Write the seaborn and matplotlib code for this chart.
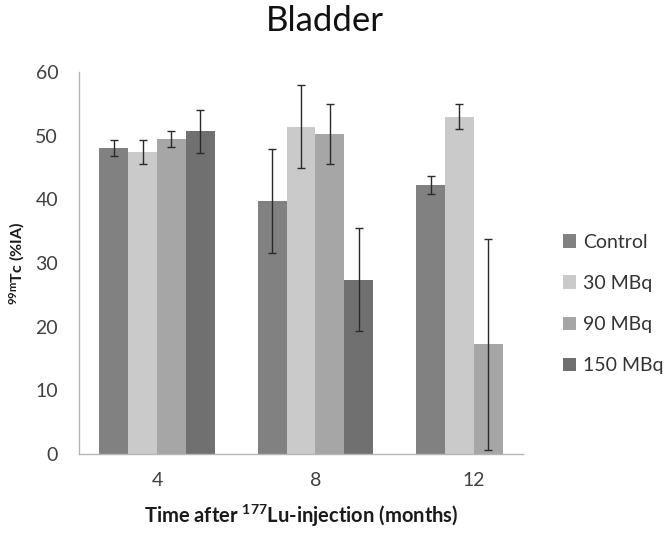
import numpy as np
import pandas as pd
import matplotlib
matplotlib.use("Agg")
import matplotlib.pyplot as plt
import seaborn as sns

# values (mean and error per group)
months = ["4", "8", "12"]
groups = ["Control", "30 MBq", "90 MBq", "150 MBq"]
means = {
    "Control": [48.1, 39.7, 42.3],
    "30 MBq": [47.4, 51.4, 53.0],
    "90 MBq": [49.5, 50.3, 17.2],
    "150 MBq": [50.7, 27.4, np.nan],
}
errors = {
    "Control": [1.25, 8.2, 1.4],
    "30 MBq": [1.85, 6.5, 1.9],
    "90 MBq": [1.25, 4.7, 16.5],
    "150 MBq": [3.35, 8.1, np.nan],
}
colors = ["#818181", "#cacaca", "#a6a6a6", "#707070"]

rows = []
for g in groups:
    for m, v, e in zip(months, means[g], errors[g]):
        rows.append({"month": m, "group": g, "value": v, "err": e})
df = pd.DataFrame(rows).dropna()

sns.set_style("white")
plt.rcParams["font.family"] = ["Lato", "DejaVu Sans"]
plt.rcParams["mathtext.fontset"] = "custom"
plt.rcParams["mathtext.rm"] = "Lato"
plt.rcParams["mathtext.bf"] = "Lato:bold"

fig = plt.figure(figsize=(6.66, 5.35), dpi=100)
ax = fig.add_axes([0.1186, 0.1514, 0.6667, 0.714])

sns.barplot(data=df, x="month", y="value", hue="group", order=months,
            hue_order=groups, palette=colors, width=0.73, errorbar=None,
            saturation=1, linewidth=0, ax=ax)

# error bars on top of the drawn bars
for g, cont in zip(groups, ax.containers):
    sub = df[df["group"] == g].set_index("month")
    for bar in cont:
        cx = bar.get_x() + bar.get_width() / 2
        m = months[int(round(cx))]
        if m not in sub.index:
            continue
        ax.errorbar(cx, sub.loc[m, "value"], yerr=sub.loc[m, "err"], fmt="none",
                    ecolor="#2a2a2a", elinewidth=1, capsize=3.2, capthick=1)

ax.set_ylim(0, 60)
ax.set_yticks(range(0, 61, 10))
ax.tick_params(axis="y", length=0, labelsize=14, colors="#404040", pad=15)
ax.tick_params(axis="x", length=0, labelsize=14, colors="#404040", pad=13)
for s in ["top", "right"]:
    ax.spines[s].set_visible(False)
for s in ["left", "bottom"]:
    ax.spines[s].set_color("#b5b5b5")
    ax.spines[s].set_linewidth(1)

ax.set_xlabel(r"Time after $\mathbf{^{177}}$Lu-injection (months)", fontsize=14.5,
              fontweight="bold", labelpad=10, color="#1a1a1a")
ax.set_ylabel(r"$\mathbf{^{99m}}$Tc (%IA)", fontsize=11.5, fontweight="bold",
              labelpad=6, color="#1a1a1a")

fig.text(325 / 666, 1 - 21 / 535, "Bladder", ha="center", va="center",
         fontsize=25, color="#111111")

handles, labels = ax.get_legend_handles_labels()
ax.get_legend().remove()
fig.legend(handles, labels, loc="center left",
           bbox_to_anchor=(545 / 666, 1 - 304 / 535), frameon=False,
           fontsize=14, handlelength=0.7, handleheight=0.7, handletextpad=0.35,
           labelspacing=1.25, labelcolor="#333333")

fig.savefig("out.png", dpi=100)
